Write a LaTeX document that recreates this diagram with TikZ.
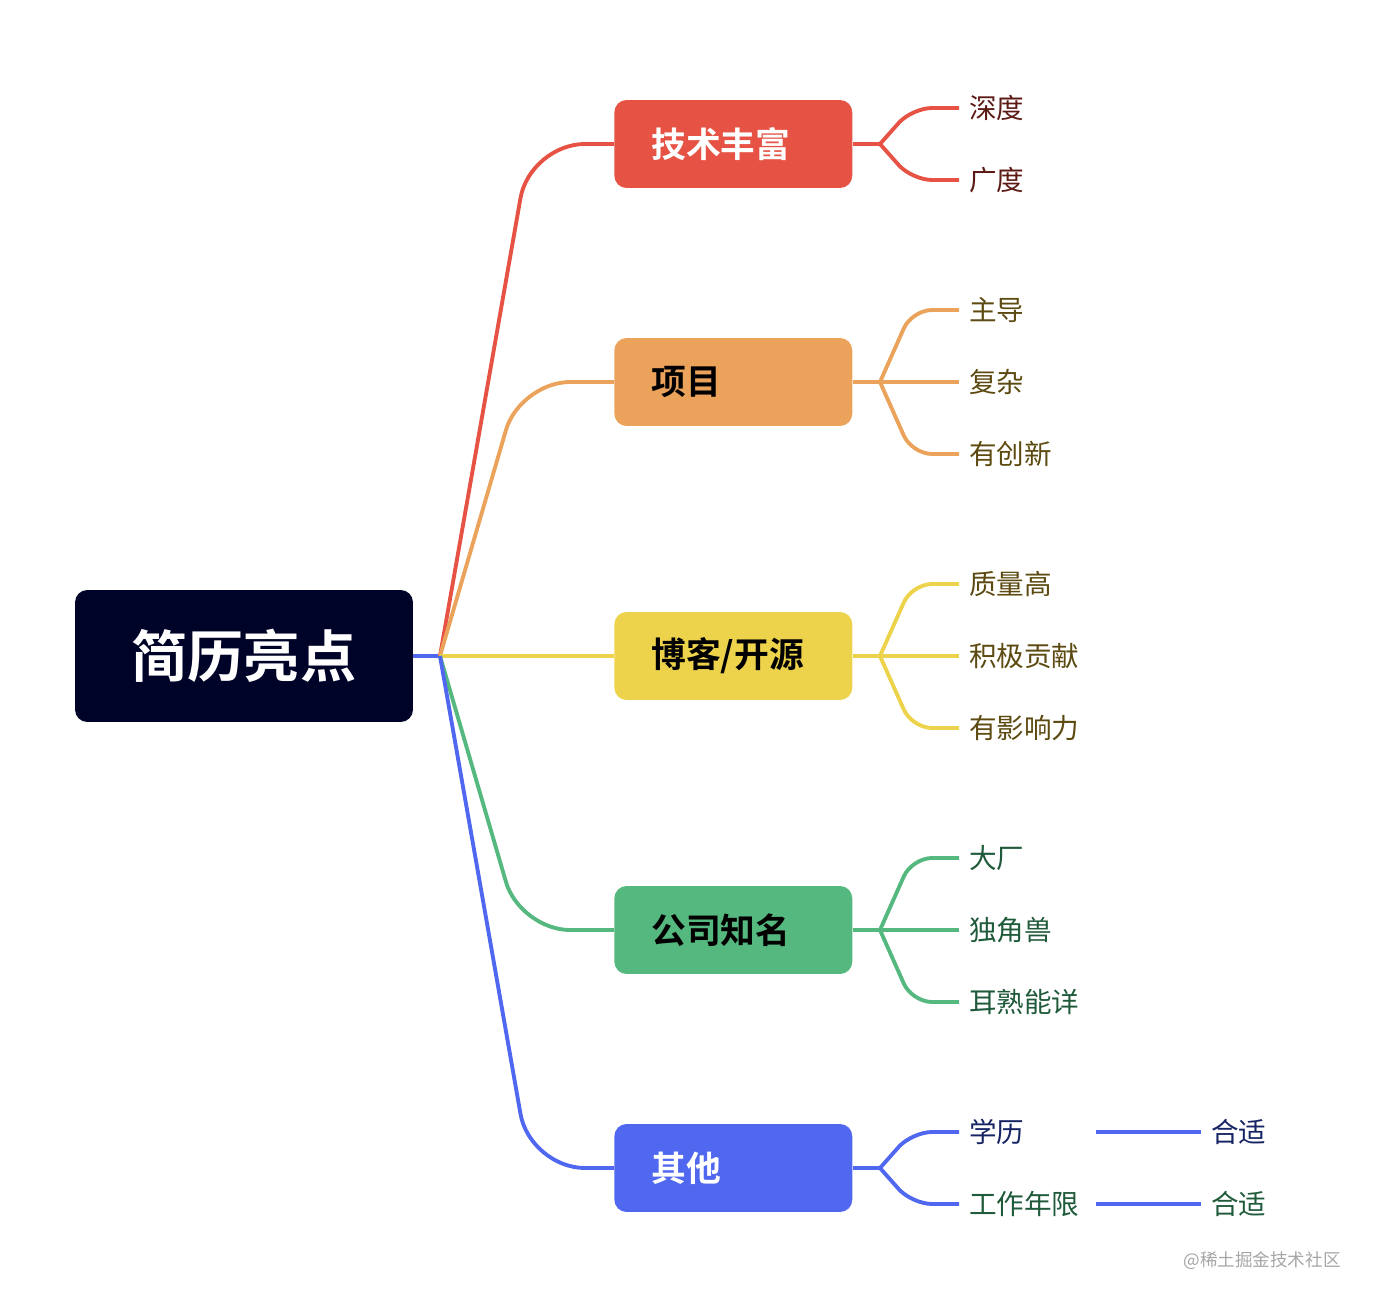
\documentclass[tikz,border=0pt]{standalone}
\usepackage{fontspec}
\setmainfont{Noto Sans CJK SC}[BoldFont={Noto Sans CJK SC Bold}]
\usetikzlibrary{calc}
\definecolor{rootcolor}{RGB}{0,3,40}
\definecolor{redc}{RGB}{230,82,68}
\definecolor{orangec}{RGB}{235,163,92}
\definecolor{yellowc}{RGB}{237,210,75}
\definecolor{greenc}{RGB}{85,184,127}
\definecolor{bluec}{RGB}{80,104,240}
\definecolor{redtext}{RGB}{92,26,20}
\definecolor{oliventext}{RGB}{92,74,16}
\definecolor{greentext}{RGB}{31,90,58}
\definecolor{navytext}{RGB}{22,36,100}
\tikzset{
  rootbox/.style   = {fill=rootcolor,rounded corners=7pt,minimum width=6.76cm,
                      minimum height=2.64cm,text=white,font=\fontsize{32}{36}\selectfont\bfseries},
  topic/.style     = {rounded corners=7pt,anchor=west,minimum height=1.76cm,
                      text width=3.28cm,inner xsep=0.74cm,align=left,
                      font=\fontsize{19.8}{23}\selectfont\bfseries},
  leaf/.style      = {anchor=west,inner xsep=5.5pt,font=\fontsize{15.7}{18}\selectfont},
  link/.style      = {line width=2.2pt},
  branch/.style    = {link,rounded corners=1.1cm},
  fan/.style       = {link,rounded corners=0.4cm},
}
\begin{document}
\begin{tikzpicture}[x=0.02cm,y=-0.02cm]
  \useasboundingbox (0,0) rectangle (1374,1304);
  % root
  \node[rootbox] (root) at (244,656) {简历亮点};
  \coordinate (jn) at (440,656);
  % topics
  \node[topic,fill=redc,text=white] (tech) at (614,144) {技术丰富};
  \node[topic,fill=orangec,text=black] (proj) at (614,382) {项目};
  \node[topic,fill=yellowc,text=black] (blog) at (614,656) {博客/开源};
  \node[topic,fill=greenc,text=black] (corp) at (614,930) {公司知名};
  \node[topic,fill=bluec,text=white] (misc) at (614,1168) {其他};
  % root to topics
  \draw[link,bluec] (root.east) -- (jn);
  \draw[branch,redc] (jn) -- (530,144) -- (tech.west);
  \draw[branch,orangec,rounded corners=1cm] (jn) -- (520,382) -- (proj.west);
  \draw[link,yellowc] (jn) -- (blog.west);
  \draw[branch,greenc,rounded corners=1cm] (jn) -- (520,930) -- (corp.west);
  \draw[branch,bluec] (jn) -- (530,1168) -- (misc.west);
  % leaves
  \node[leaf,text=redtext] (depth) at (959,108) {深度};
  \node[leaf,text=redtext] (breadth) at (959,180) {广度};
  \node[leaf,text=oliventext] (lead) at (959,310) {主导};
  \node[leaf,text=oliventext] (complex) at (959,382) {复杂};
  \node[leaf,text=oliventext] (novel) at (959,454) {有创新};
  \node[leaf,text=oliventext] (quality) at (959,584) {质量高};
  \node[leaf,text=oliventext] (contrib) at (959,656) {积极贡献};
  \node[leaf,text=oliventext] (impact) at (959,728) {有影响力};
  \node[leaf,text=greentext] (bigco) at (959,858) {大厂};
  \node[leaf,text=greentext] (unicorn) at (959,930) {独角兽};
  \node[leaf,text=greentext] (famous) at (959,1002) {耳熟能详};
  \node[leaf,text=navytext] (degree) at (959,1132) {学历};
  \node[leaf,text=greentext] (years) at (959,1204) {工作年限};
  \node[leaf,text=navytext] (fit1) at (1201,1132) {合适};
  \node[leaf,text=greentext] (fit2) at (1201,1204) {合适};
  % fans
  \coordinate (ftech) at (880,144);
  \coordinate (fproj) at (880,382);
  \coordinate (fblog) at (880,656);
  \coordinate (fcorp) at (880,930);
  \coordinate (fmisc) at (880,1168);
  \draw[link,redc] (tech.east) -- (ftech);
  \draw[fan,redc] (ftech) -- (912,108) -- (depth.west);
  \draw[fan,redc] (ftech) -- (912,180) -- (breadth.west);
  \draw[link,orangec] (proj.east) -- (complex.west);
  \draw[fan,orangec] (fproj) -- (912,310) -- (lead.west);
  \draw[fan,orangec] (fproj) -- (912,454) -- (novel.west);
  \draw[link,yellowc] (blog.east) -- (contrib.west);
  \draw[fan,yellowc] (fblog) -- (912,584) -- (quality.west);
  \draw[fan,yellowc] (fblog) -- (912,728) -- (impact.west);
  \draw[link,greenc] (corp.east) -- (unicorn.west);
  \draw[fan,greenc] (fcorp) -- (912,858) -- (bigco.west);
  \draw[fan,greenc] (fcorp) -- (912,1002) -- (famous.west);
  \draw[link,bluec] (misc.east) -- (fmisc);
  \draw[fan,bluec] (fmisc) -- (912,1132) -- (degree.west);
  \draw[fan,bluec] (fmisc) -- (912,1204) -- (years.west);
  % detail lines
  \coordinate (e1) at (1096,1132);
  \coordinate (e2) at (1096,1204);
  \draw[link,bluec] (e1) -- (fit1.west);
  \draw[link,bluec] (e2) -- (fit2.west);
  % watermark
  \node[anchor=east,text=black!35,font=\fontsize{10}{12}\selectfont,inner sep=0pt] (mark) at (1341,1261) {@稀土掘金技术社区};
\end{tikzpicture}
\end{document}
